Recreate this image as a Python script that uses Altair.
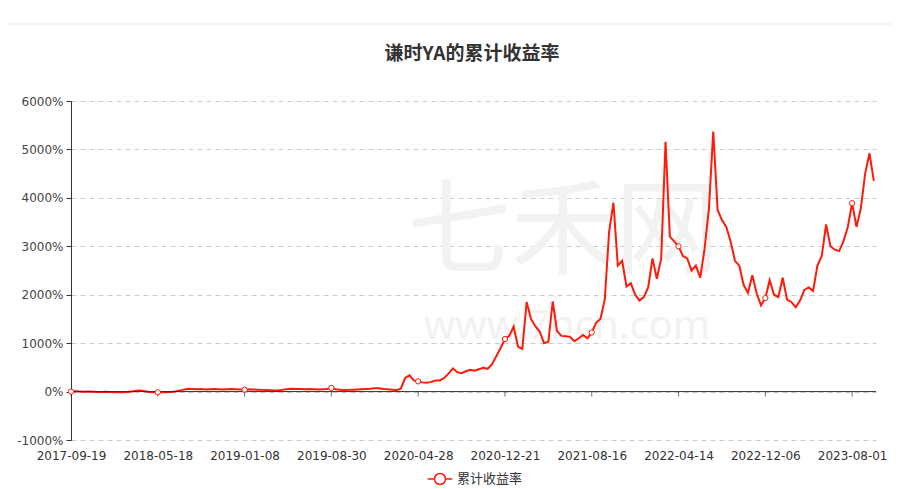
import altair as alt
import pandas as pd

title_text = "谦时YA的累计收益率"
series_name = "累计收益率"
tick_labels = ["2017-09-19", "2018-05-18", "2019-01-08", "2019-08-30", "2020-04-28",
               "2020-12-21", "2021-08-16", "2022-04-14", "2022-12-06", "2023-08-01"]
label_step = 20

values = [
    0, 5, 0, -5, 0, -5, -10, -10, -5, -10,
    -15, -10, -15, -10, 0, 15, 20, 5, -10, -15,
    -15, -10, -15, -10, 0, 20, 40, 60, 55, 50,
    55, 45, 50, 55, 50, 45, 50, 55, 50, 45,
    40, 50, 45, 40, 35, 30, 25, 20, 25, 40,
    55, 60, 55, 55, 50, 55, 50, 45, 50, 55,
    75, 50, 40, 30, 35, 40, 45, 50, 55, 60,
    70, 70, 55, 50, 40, 30, 60, 280, 335, 230,
    210, 190, 180, 200, 230, 230, 280, 370, 480, 400,
    380, 420, 450, 430, 460, 490, 470, 560, 730, 900,
    1085, 1150, 1340, 930, 880, 1850, 1500, 1350, 1240, 1000,
    1030, 1860, 1250, 1150, 1140, 1130, 1040, 1100, 1170, 1100,
    1220, 1420, 1500, 1900, 3300, 3900, 2600, 2700, 2170, 2240,
    2000, 1880, 1950, 2150, 2750, 2330, 2750, 5160, 3200, 3100,
    3000, 2800, 2750, 2500, 2600, 2350, 2950, 3780, 5370, 3750,
    3540, 3400, 3100, 2700, 2600, 2200, 2040, 2400, 2030, 1780,
    1930, 2300, 2000, 1950, 2350, 1900, 1850, 1740, 1880, 2100,
    2150, 2080, 2600, 2800, 3450, 3000, 2930, 2900, 3100, 3400,
    3890, 3400, 3780, 4500, 4920, 4350,
]

y_ticks = [-1000, 0, 1000, 2000, 3000, 4000, 5000, 6000]

df = pd.DataFrame({"i": list(range(len(values))), "v": values, "s": series_name})
tick_idx = [k * label_step for k in range(len(tick_labels))]
marks_df = df[df["i"] % label_step == 0]
ticks_df = pd.DataFrame({"i": tick_idx, "v": [0] * len(tick_idx)})
one = pd.DataFrame({"z": [0]})

RED = "#ff1a0a"
FONT = "Noto Sans CJK SC"
NUMFONT = "DejaVu Sans"
label_arr = "[" + ",".join("'" + t + "'" for t in tick_labels) + "]"

x_scale = alt.Scale(domain=[0, 185.5], nice=False, zero=False)
y_scale = alt.Scale(domain=[-1000, 6000], nice=False)

x_enc = alt.X("i:Q", scale=x_scale, title=None,
              axis=alt.Axis(values=tick_idx, labelExpr=label_arr + "[round(datum.value/20)]",
                            domain=False, ticks=False, tickSize=0, grid=False,
                            labelPadding=10, labelFontSize=12, labelColor="#333",
                            labelFont=NUMFONT, labelFlush=False, labelOverlap=False))
y_enc = alt.Y("v:Q", scale=y_scale, title=None,
              axis=alt.Axis(values=y_ticks, labelExpr="datum.value + '%'",
                            grid=True, gridDash=[5, 4], gridColor="#cccccc",
                            domainColor="#333", tickColor="#333", tickSize=5,
                            labelPadding=3, labelFontSize=12, labelColor="#444",
                            labelFont=NUMFONT))

legend_path = "M-1,0L-0.45,0M0.45,0L1,0M0.45,0A0.45,0.45,0,1,1,-0.45,0A0.45,0.45,0,1,1,0.45,0"

title_mark = alt.Chart(one).mark_text(text=title_text, fontSize=19, fontWeight="bold",
                                      color="#333", font=FONT, align="center",
                                      baseline="middle").encode(
    x=alt.value(401), y=alt.value(-47))
watermark1 = alt.Chart(one).mark_text(text="七禾网", fontSize=104, color="#f2f2f2",
                                      font=FONT, align="center", baseline="middle").encode(
    x=alt.value(492), y=alt.value(134))
watermark2 = alt.Chart(one).mark_text(text="www.7hcn.com", fontSize=40, color="#f2f2f2",
                                      font="Noto Sans", align="center", baseline="middle").encode(
    x=alt.value(496), y=alt.value(226))

line = alt.Chart(df).mark_line(strokeWidth=2).encode(
    x=x_enc, y=y_enc,
    color=alt.Color("s:N", scale=alt.Scale(range=[RED]),
                    legend=alt.Legend(title=None, orient="none", legendX=356, legendY=365,
                                      symbolType=legend_path, symbolSize=600,
                                      symbolStrokeWidth=1.5, symbolFillColor="white",
                                      symbolStrokeColor=RED,
                                      labelFontSize=13, labelColor="#333", labelFont=FONT))
)

zero_line = alt.Chart(one).mark_rule(color="#333", strokeWidth=1).encode(y=alt.datum(0))
axis_ticks = alt.Chart(ticks_df).mark_tick(color="#333", orient="vertical", size=5,
                                           thickness=1, yOffset=2.5).encode(
    x=alt.X("i:Q", scale=x_scale), y=alt.Y("v:Q", scale=y_scale))
points = alt.Chart(marks_df).mark_point(shape="circle", filled=True, fill="white",
                                        stroke=RED, strokeWidth=1, size=28, opacity=1).encode(
    x=alt.X("i:Q", scale=x_scale), y=alt.Y("v:Q", scale=y_scale))
top_line = alt.Chart(one).mark_rule(color="#e6e6e6", strokeWidth=1).encode(
    x=alt.value(-63), x2=alt.value(820), y=alt.value(-77))

chart = alt.layer(watermark1, watermark2, top_line, title_mark, line, zero_line,
                  axis_ticks, points).properties(
    width=805, height=339,
    background="white",
    autosize=alt.AutoSizeParams(type="none"),
    padding={"left": 63, "top": 93, "right": 15, "bottom": 46},
).configure_view(strokeWidth=0)

chart.save("out.html", embed_options={"renderer": "svg", "actions": False})
